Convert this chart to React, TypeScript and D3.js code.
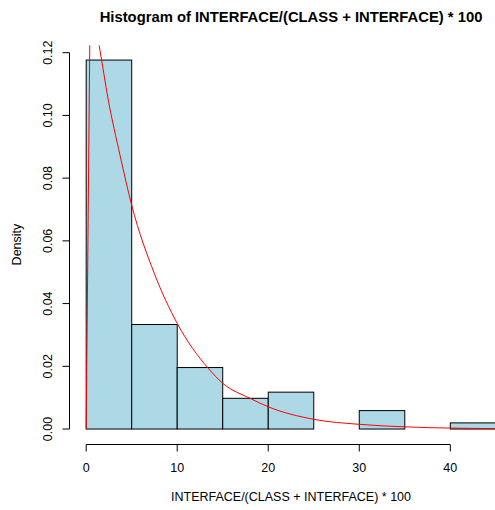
import React, { useEffect, useRef } from 'react'
import * as d3 from 'd3'

// histogram bins (width 5), density values
const binStarts = [0, 5, 10, 15, 20, 25, 30, 35, 40]
const binWidth = 5
const densities = [0.11765, 0.03333, 0.01961, 0.0098, 0.01176, 0, 0.00588, 0, 0.00196]

// fitted density curve
const curveX = [0, 0.45, 0.9, 1.45, 2.43, 3.71, 5, 7.5, 10, 13.4, 15, 18, 20, 25, 30, 35, 40, 45]
const curveY = [0, 0.14, 0.131, 0.1219, 0.1049, 0.0874, 0.0714, 0.0495, 0.0337, 0.0194, 0.0146, 0.0098, 0.0071, 0.0031, 0.0015, 0.0007, 0.0003, 0.00014]

const xTicks = [0, 10, 20, 30, 40]
const yTicks = [0, 0.02, 0.04, 0.06, 0.08, 0.1, 0.12]

const title = 'Histogram of INTERFACE/(CLASS + INTERFACE) * 100'
const xLabel = 'INTERFACE/(CLASS + INTERFACE) * 100'
const yLabel = 'Density'

export default function App() {
  const ref = useRef<SVGSVGElement>(null)

  useEffect(() => {
    let width = 495
    let height = 510
    let font = '"Liberation Sans", Arial, Helvetica, sans-serif'

    let svg = d3.select(ref.current)
    svg.selectAll('*').remove()
    svg.attr('width', width).attr('height', height)

    // R style 4% expansion of the data ranges
    let ymax = d3.max(densities) as number
    let x = d3.scaleLinear().domain([-1.8, 46.8]).range([69.8, 512.2])
    let y = d3.scaleLinear().domain([-ymax * 0.04, ymax * 1.04]).range([443.8, 45.3])

    svg.append('clipPath').attr('id', 'plotclip')
      .append('rect')
      .attr('x', x.range()[0])
      .attr('y', y.range()[1])
      .attr('width', x.range()[1] - x.range()[0])
      .attr('height', y.range()[0] - y.range()[1])

    // bars
    svg.append('g').selectAll('rect')
      .data(binStarts)
      .join('rect')
      .attr('x', d => x(d))
      .attr('y', (d, i) => y(densities[i]))
      .attr('width', d => x(d + binWidth) - x(d))
      .attr('height', (d, i) => y(0) - y(densities[i]))
      .attr('fill', '#ADD8E6')
      .attr('stroke', '#000')
      .attr('stroke-width', 1)

    // density curve: straight rise from 0, smooth decay after the peak
    let pts = curveX.map((d, i) => [d, curveY[i]] as [number, number])
    let rise = d3.line<[number, number]>()
      .x(d => x(d[0]))
      .y(d => y(d[1]))
    let decay = d3.line<[number, number]>()
      .x(d => x(d[0]))
      .y(d => y(d[1]))
      .curve(d3.curveMonotoneX)

    let cg = svg.append('g').attr('clip-path', 'url(#plotclip)')
    cg.append('path')
      .attr('d', rise(pts.slice(0, 2)))
      .attr('fill', 'none')
      .attr('stroke', '#FF0000')
      .attr('stroke-width', 1)
    cg.append('path')
      .attr('d', decay(pts.slice(1)))
      .attr('fill', 'none')
      .attr('stroke', '#FF0000')
      .attr('stroke-width', 1)

    // x axis
    let xa = svg.append('g').attr('transform', 'translate(0, 444.5)')
    xa.append('line')
      .attr('x1', x(xTicks[0])).attr('x2', x(xTicks[xTicks.length - 1]))
      .attr('stroke', '#000')
    xa.selectAll('.tick').data(xTicks).join('line')
      .attr('class', 'tick')
      .attr('x1', d => x(d)).attr('x2', d => x(d))
      .attr('y1', 0).attr('y2', 7)
      .attr('stroke', '#000')
    svg.selectAll('.xlab').data(xTicks).join('text')
      .attr('class', 'xlab')
      .attr('x', d => x(d))
      .attr('y', 471.5)
      .attr('text-anchor', 'middle')
      .style('font-family', font)
      .style('font-size', '12.5px')
      .text(d => d)

    // y axis
    let ya = svg.append('g').attr('transform', 'translate(69.5, 0)')
    ya.append('line')
      .attr('y1', y(yTicks[0])).attr('y2', y(yTicks[yTicks.length - 1]))
      .attr('stroke', '#000')
    ya.selectAll('.tick').data(yTicks).join('line')
      .attr('class', 'tick')
      .attr('y1', d => y(d)).attr('y2', d => y(d))
      .attr('x1', 0).attr('x2', -7)
      .attr('stroke', '#000')
    svg.selectAll('.ylab').data(yTicks).join('text')
      .attr('class', 'ylab')
      .attr('transform', d => `translate(51.7, ${y(d)}) rotate(-90)`)
      .attr('text-anchor', 'middle')
      .style('font-family', font)
      .style('font-size', '12.5px')
      .text(d => d3.format('.2f')(d))

    // titles
    let cx = (x.range()[0] + x.range()[1]) / 2
    let cy = (y.range()[0] + y.range()[1]) / 2
    svg.append('text')
      .attr('x', cx)
      .attr('y', 22)
      .attr('text-anchor', 'middle')
      .style('font-family', font)
      .style('font-size', '14.8px')
      .style('font-weight', 'bold')
      .text(title)
    svg.append('text')
      .attr('x', cx)
      .attr('y', 500.5)
      .attr('text-anchor', 'middle')
      .style('font-family', font)
      .style('font-size', '12.5px')
      .text(xLabel)
    svg.append('text')
      .attr('transform', `translate(20.5, ${cy}) rotate(-90)`)
      .attr('text-anchor', 'middle')
      .style('font-family', font)
      .style('font-size', '12.5px')
      .text(yLabel)
  }, [])

  return (
    <svg ref={ref} style={{ position: 'absolute', left: 0, top: 0, background: '#fff' }} />
  )
}
